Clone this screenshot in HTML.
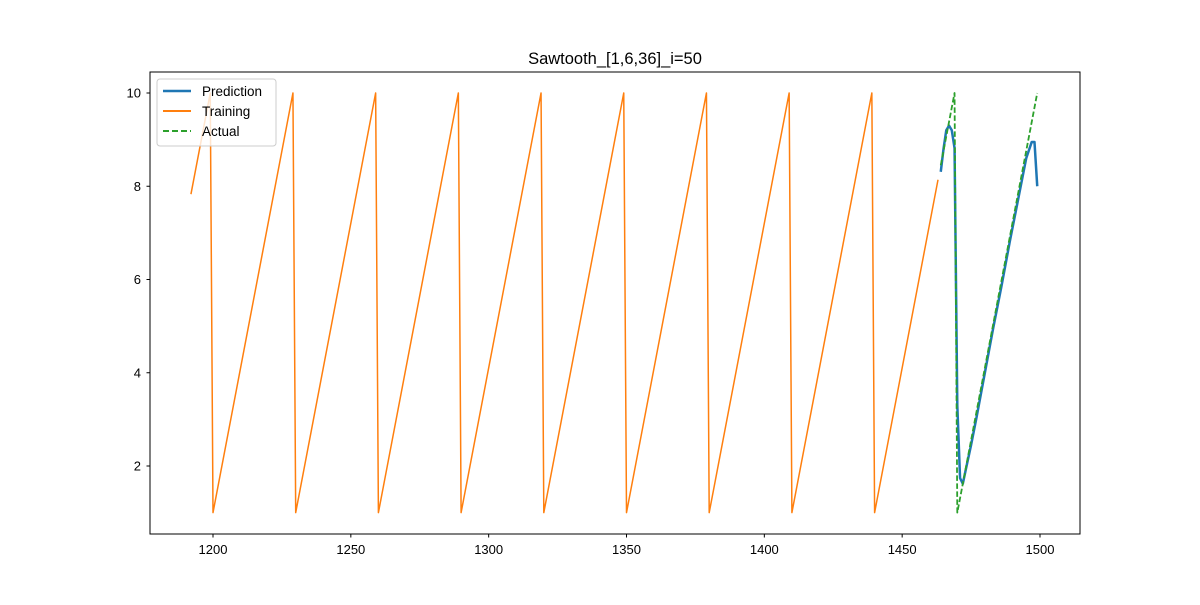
<!DOCTYPE html>
<html><head><meta charset="utf-8"><style>
body{margin:0;background:#fff;}
svg text{font-family:"Liberation Sans","DejaVu Sans",sans-serif;}
</style></head><body>
<svg id="chart" width="1200" height="600" xmlns="http://www.w3.org/2000/svg">
<rect width="1200" height="600" fill="#fff"/>
<text x="615" y="64" font-size="16.5" text-anchor="middle">Sawtooth_[1,6,36]_i=50</text>
<g id="plot"></g>
<rect x="150" y="72" width="930" height="462" fill="none" stroke="#000" stroke-width="1"/>
<g id="axes"></g>
<g>
<rect x="157" y="79" width="119" height="67" rx="3" fill="#fff" fill-opacity="0.8" stroke="#ccc"/>
<line x1="163" y1="91" x2="191" y2="91" stroke="#1f77b4" stroke-width="2.5"/>
<text x="202" y="96" font-size="13.5">Prediction</text>
<line x1="163" y1="111" x2="191" y2="111" stroke="#ff7f0e" stroke-width="2"/>
<text x="202" y="116" font-size="13.5">Training</text>
<line x1="163" y1="131" x2="191" y2="131" stroke="#2ca02c" stroke-width="2" stroke-dasharray="6,3"/>
<text x="202" y="136" font-size="13.5">Actual</text>
</g>
</svg>
<script>
const xTicks=[1200,1250,1300,1350,1400,1450,1500];
const yTicks=[2,4,6,8,10];
const trainX=[1192,1199,1200,1229,1230,1259,1260,1289,1290,1319,1320,1349,1350,1379,1380,1409,1410,1439,1440,1463];
const trainY=[7.83,10,1,10,1,10,1,10,1,10,1,10,1,10,1,10,1,10,1,8.14];
const actualX=[1464,1469,1470,1499];
const actualY=[8.45,10,1,10];
const predX=[1464,1465,1466,1467,1468,1469,1470,1471,1472,1473,1475,1477,1480,1483,1486,1489,1492,1495,1497,1498,1499];
const predY=[8.31,8.8,9.2,9.3,9.2,8.82,3.3,1.74,1.62,1.9,2.45,3.05,4.0,4.95,5.85,6.8,7.7,8.6,8.95,8.95,8.0];
const sx=v=>213+(v-1200)*827/300;
const sy=v=>93+(10-v)*373/8;
const NS='http://www.w3.org/2000/svg';
const plot=document.getElementById('plot'), axes=document.getElementById('axes');
function line(xs,ys,color,w,dash,name){
  const p=document.createElementNS(NS,'polyline');
  p.setAttribute('points',xs.map((x,i)=>sx(x)+','+sy(ys[i])).join(' '));
  p.setAttribute('fill','none');p.setAttribute('stroke',color);p.setAttribute('stroke-width',w);
  p.setAttribute('stroke-linejoin','round');
  if(dash)p.setAttribute('stroke-dasharray',dash);
  
  
  plot.appendChild(p);
}
line(trainX,trainY,'#ff7f0e',1.5,null,'training-line');
line(predX,predY,'#1f77b4',2.5,null,'prediction-line');
line(actualX,actualY,'#2ca02c',1.8,'5.5,2.5','actual-line');
xTicks.forEach(t=>{
  const x=sx(t);
  const l=document.createElementNS(NS,'line');
  l.setAttribute('x1',x);l.setAttribute('x2',x);l.setAttribute('y1',534);l.setAttribute('y2',537.5);l.setAttribute('stroke','#000');
  
  
  axes.appendChild(l);
  const tx=document.createElementNS(NS,'text');
  tx.setAttribute('x',x);tx.setAttribute('y',554);tx.setAttribute('font-size','13');tx.setAttribute('text-anchor','middle');
  tx.textContent=t;
  
  
  axes.appendChild(tx);
});
yTicks.forEach(t=>{
  const y=sy(t);
  const l=document.createElementNS(NS,'line');
  l.setAttribute('x1',146.5);l.setAttribute('x2',150);l.setAttribute('y1',y);l.setAttribute('y2',y);l.setAttribute('stroke','#000');
  
  
  axes.appendChild(l);
  const tx=document.createElementNS(NS,'text');
  tx.setAttribute('x',141);tx.setAttribute('y',y+4.5);tx.setAttribute('font-size','13');tx.setAttribute('text-anchor','end');
  tx.textContent=t;
  
  
  axes.appendChild(tx);
});
</script>
</body></html>
